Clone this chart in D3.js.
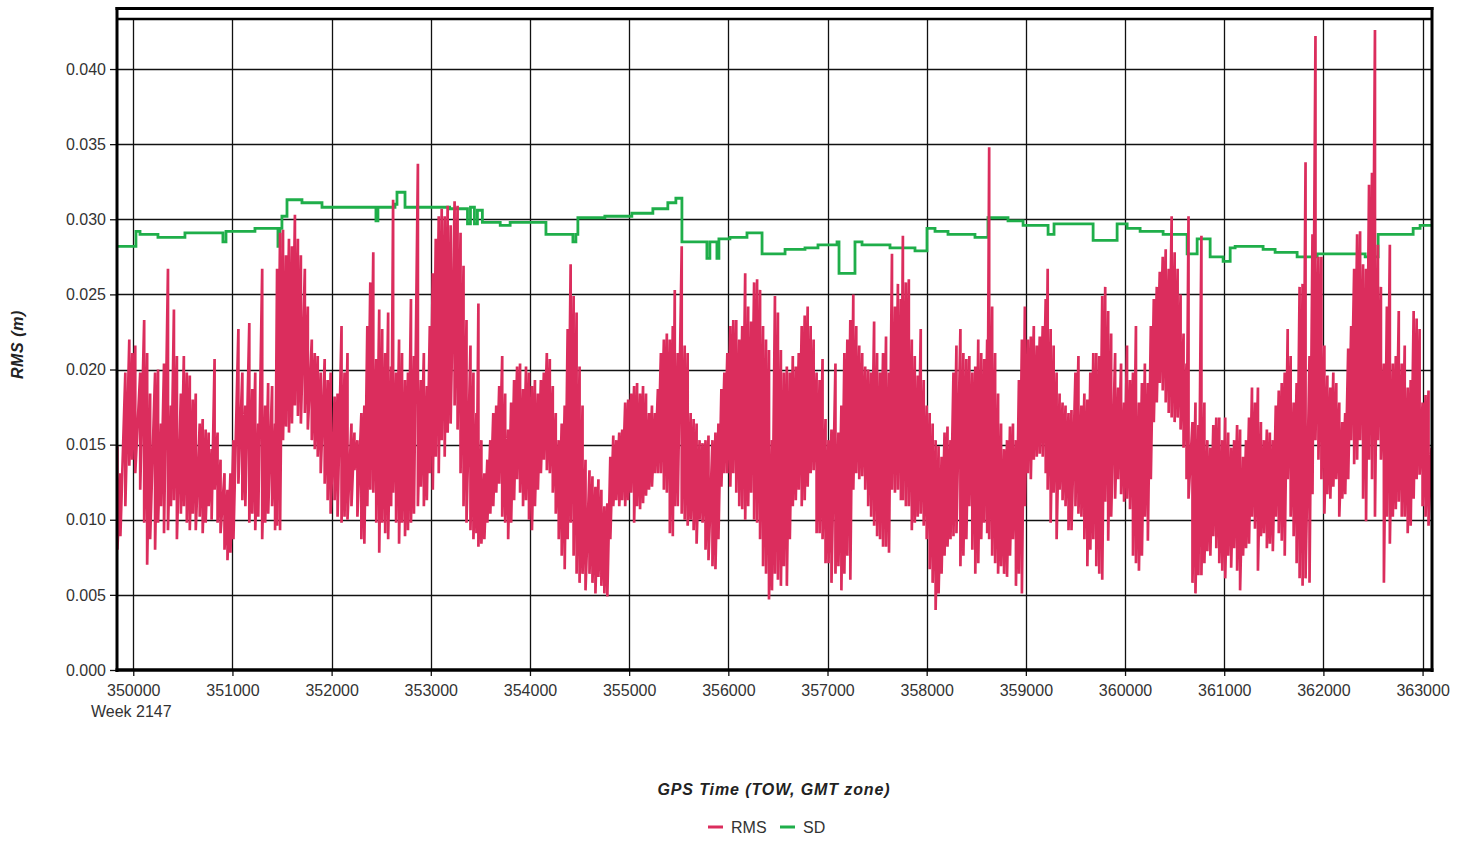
<!DOCTYPE html>
<html><head><meta charset="utf-8">
<script src="https://cdn.jsdelivr.net/npm/d3@7"></script>
<style>
html,body{margin:0;padding:0;background:#fff;}
svg{display:block;}
text{font-family:"Liberation Sans",Arial,sans-serif;}
</style></head><body>
<svg id="chart" width="1468" height="842"></svg>
<script>
// GPS time of week (s) of each decimated epoch bin
const tow = [
349840,349870,349920,349960,349990,350020,350070,350110,350140,350170,
350220,350250,350280,350310,350350,350380,350410,350440,350480,350510,
350540,350570,350600,350630,350670,350700,350730,350760,350790,350820,
350850,350880,350920,350950,350980,351010,351060,351100,351130,351170,
351200,351230,351260,351300,351330,351360,351400,351430,351450,351480,
351510,351540,351570,351600,351630,351660,351690,351730,351760,351800,
351830,351860,351890,351930,351960,351990,352030,352060,352100,352130,
352160,352200,352230,352260,352300,352330,352360,352390,352420,352450,
352480,352510,352540,352570,352600,352620,352650,352680,352710,352740,
352770,352800,352830,352870,352900,352930,352960,352990,353020,353050,
353080,353110,353140,353170,353200,353240,353270,353300,353330,353360,
353400,353430,353460,353480,353510,353540,353570,353600,353630,353660,
353690,353720,353750,353780,353810,353840,353870,353900,353930,353960,
353990,354020,354050,354080,354110,354140,354170,354200,354230,354260,
354290,354320,354350,354380,354410,354440,354470,354500,354530,354560,
354600,354630,354660,354690,354720,354750,354780,354810,354840,354870,
354900,354930,354960,354990,355020,355050,355080,355110,355140,355170,
355200,355230,355260,355290,355320,355350,355380,355410,355440,355460,
355490,355530,355560,355590,355620,355650,355680,355710,355740,355770,
355800,355840,355870,355900,355930,355960,355990,356020,356050,356080,
356110,356140,356170,356200,356230,356260,356290,356320,356350,356380,
356410,356440,356470,356500,356530,356560,356590,356620,356650,356680,
356710,356740,356770,356800,356830,356860,356890,356920,356950,356980,
357010,357040,357080,357110,357140,357170,357200,357230,357260,357290,
357320,357350,357380,357410,357440,357470,357500,357530,357560,357590,
357620,357650,357680,357710,357740,357760,357790,357820,357850,357880,
357910,357940,357970,358000,358030,358060,358090,358120,358150,358180,
358210,358240,358270,358300,358340,358370,358400,358430,358460,358490,
358520,358550,358580,358610,358630,358660,358690,358720,358750,358780,
358810,358840,358870,358900,358930,358960,358990,359020,359050,359080,
359110,359140,359170,359200,359220,359250,359280,359310,359340,359370,
359400,359430,359460,359500,359530,359560,359590,359620,359650,359680,
359710,359740,359770,359800,359830,359860,359900,359930,359960,359990,
360020,360050,360080,360110,360140,360170,360200,360230,360260,360290,
360320,360350,360380,360410,360440,360470,360500,360530,360560,360590,
360620,360640,360680,360710,360740,360770,360800,360830,360860,360890,
360920,360950,360980,361010,361040,361070,361100,361130,361160,361190,
361220,361250,361280,361310,361340,361370,361400,361430,361460,361490,
361520,361550,361580,361610,361640,361670,361700,361730,361760,361790,
361820,361860,361890,361920,361950,361980,362010,362040,362070,362100,
362130,362160,362190,362220,362250,362280,362310,362340,362370,362400,
362430,362460,362490,362520,362550,362580,362610,362640,362670,362700,
362730,362760,362790,362820,362850,362880,362910,362940,362970,363000,
363030,363060,363090
];
// RMS (m): largest value in each epoch bin
const rmsMax = [
.0149,.0131,.0198,.0220,.0211,.0216,.0198,.0233,.0211,.0184,
.0198,.0200,.0164,.0204,.0267,.0176,.0240,.0209,.0184,.0209,
.0198,.0196,.0180,.0184,.0164,.0167,.0160,.0158,.0147,.0207,
.0158,.0140,.0131,.0120,.0131,.0153,.0227,.0198,.0176,.0231,
.0187,.0198,.0164,.0267,.0176,.0191,.0189,.0164,.0267,.0291,
.0293,.0276,.0287,.0282,.0303,.0287,.0276,.0267,.0242,.0220,
.0211,.0209,.0198,.0207,.0193,.0198,.0182,.0184,.0229,.0198,
.0211,.0164,.0158,.0153,.0171,.0176,.0229,.0258,.0278,.0207,
.0240,.0227,.0211,.0238,.0202,.0313,.0198,.0220,.0211,.0193,
.0198,.0247,.0209,.0337,.0193,.0211,.0189,.0229,.0264,.0287,
.0302,.0307,.0302,.0309,.0296,.0312,.0309,.0291,.0269,.0233,
.0216,.0198,.0171,.0244,.0153,.0131,.0140,.0153,.0171,.0176,
.0189,.0209,.0184,.0160,.0178,.0193,.0202,.0204,.0187,.0202,
.0198,.0189,.0193,.0184,.0193,.0198,.0211,.0207,.0189,.0171,
.0153,.0164,.0176,.0227,.0270,.0249,.0238,.0202,.0176,.0140,
.0133,.0129,.0122,.0127,.0120,.0109,.0111,.0142,.0156,.0153,
.0158,.0160,.0178,.0180,.0184,.0189,.0191,.0184,.0189,.0184,
.0171,.0176,.0171,.0187,.0211,.0220,.0224,.0220,.0229,.0253,
.0211,.0282,.0216,.0211,.0171,.0167,.0164,.0153,.0151,.0153,
.0156,.0153,.0158,.0164,.0187,.0198,.0211,.0229,.0233,.0233,
.0220,.0229,.0264,.0242,.0232,.0258,.0260,.0253,.0229,.0220,
.0213,.0153,.0249,.0238,.0213,.0198,.0202,.0198,.0209,.0202,
.0211,.0229,.0236,.0242,.0229,.0220,.0198,.0193,.0207,.0167,
.0153,.0160,.0204,.0158,.0176,.0211,.0220,.0233,.0250,.0229,
.0216,.0211,.0202,.0200,.0198,.0232,.0211,.0198,.0211,.0222,
.0198,.0277,.0242,.0257,.0247,.0289,.0258,.0260,.0220,.0209,
.0196,.0227,.0193,.0176,.0171,.0164,.0153,.0149,.0142,.0158,
.0162,.0153,.0198,.0216,.0227,.0211,.0207,.0209,.0198,.0202,
.0220,.0211,.0207,.0220,.0348,.0242,.0211,.0184,.0164,.0147,
.0153,.0162,.0164,.0153,.0193,.0220,.0242,.0220,.0222,.0229,
.0216,.0222,.0229,.0247,.0267,.0227,.0216,.0198,.0184,.0178,
.0176,.0171,.0173,.0198,.0209,.0176,.0184,.0180,.0198,.0211,
.0211,.0209,.0249,.0255,.0239,.0224,.0211,.0188,.0204,.0178,
.0216,.0193,.0198,.0229,.0178,.0191,.0204,.0191,.0229,.0247,
.0255,.0265,.0275,.0280,.0267,.0302,.0278,.0267,.0250,.0224,
.0204,.0302,.0165,.0178,.0163,.0289,.0178,.0153,.0148,.0163,
.0168,.0168,.0153,.0168,.0158,.0148,.0153,.0163,.0160,.0142,
.0153,.0168,.0188,.0178,.0188,.0165,.0153,.0160,.0158,.0153,
.0176,.0186,.0191,.0198,.0227,.0209,.0178,.0191,.0255,.0257,
.0338,.0209,.0290,.0422,.0275,.0275,.0216,.0196,.0188,.0198,
.0191,.0178,.0165,.0171,.0214,.0229,.0267,.0290,.0292,.0270,
.0267,.0323,.0331,.0426,.0283,.0255,.0204,.0242,.0283,.0204,
.0209,.0239,.0204,.0216,.0188,.0193,.0239,.0234,.0227,.0178,
.0183,.0186,.0148
];
// RMS (m): smallest value in each epoch bin
const rmsMin = [
.0080,.0089,.0109,.0136,.0140,.0131,.0120,.0098,.0070,.0087,
.0080,.0098,.0109,.0091,.0093,.0109,.0113,.0087,.0104,.0109,
.0098,.0093,.0104,.0093,.0102,.0091,.0098,.0109,.0100,.0120,
.0098,.0091,.0080,.0073,.0078,.0087,.0124,.0113,.0109,.0098,
.0104,.0093,.0102,.0087,.0098,.0104,.0109,.0093,.0096,.0093,
.0153,.0162,.0158,.0164,.0176,.0169,.0164,.0171,.0160,.0153,
.0147,.0142,.0131,.0124,.0113,.0104,.0113,.0102,.0098,.0102,
.0100,.0109,.0133,.0102,.0087,.0084,.0109,.0120,.0118,.0098,
.0078,.0098,.0091,.0087,.0109,.0118,.0098,.0084,.0098,.0089,
.0093,.0098,.0104,.0109,.0122,.0109,.0113,.0131,.0120,.0142,
.0131,.0153,.0142,.0158,.0164,.0176,.0160,.0131,.0109,.0098,
.0093,.0087,.0091,.0082,.0084,.0087,.0098,.0104,.0109,.0118,
.0124,.0102,.0098,.0087,.0098,.0113,.0127,.0118,.0109,.0113,
.0100,.0093,.0109,.0120,.0131,.0140,.0133,.0131,.0118,.0104,
.0087,.0076,.0067,.0087,.0098,.0076,.0064,.0058,.0064,.0053,
.0064,.0058,.0051,.0062,.0056,.0051,.0049,.0087,.0109,.0113,
.0109,.0113,.0109,.0113,.0118,.0098,.0109,.0107,.0111,.0116,
.0120,.0122,.0131,.0131,.0131,.0120,.0118,.0091,.0089,.0109,
.0109,.0104,.0100,.0096,.0100,.0093,.0084,.0100,.0098,.0080,
.0073,.0069,.0067,.0087,.0122,.0131,.0131,.0122,.0131,.0118,
.0109,.0107,.0100,.0109,.0118,.0100,.0098,.0087,.0069,.0064,
.0047,.0053,.0064,.0060,.0056,.0069,.0056,.0087,.0109,.0113,
.0120,.0109,.0113,.0122,.0131,.0133,.0091,.0091,.0087,.0071,
.0071,.0058,.0064,.0069,.0053,.0064,.0076,.0060,.0120,.0131,
.0127,.0129,.0120,.0109,.0102,.0096,.0089,.0087,.0082,.0082,
.0078,.0120,.0118,.0120,.0113,.0113,.0109,.0109,.0093,.0098,
.0102,.0104,.0096,.0087,.0067,.0058,.0040,.0051,.0064,.0076,
.0082,.0087,.0089,.0091,.0069,.0076,.0087,.0109,.0080,.0064,
.0071,.0087,.0098,.0091,.0087,.0076,.0071,.0064,.0069,.0064,
.0062,.0076,.0087,.0056,.0064,.0051,.0109,.0131,.0127,.0140,
.0142,.0144,.0142,.0131,.0120,.0098,.0118,.0087,.0120,.0113,
.0109,.0093,.0093,.0109,.0104,.0102,.0087,.0069,.0080,.0087,
.0069,.0064,.0060,.0112,.0086,.0102,.0114,.0127,.0117,.0112,
.0114,.0107,.0076,.0071,.0066,.0076,.0102,.0086,.0127,.0165,
.0178,.0191,.0186,.0178,.0171,.0168,.0165,.0168,.0160,.0148,
.0127,.0114,.0058,.0051,.0063,.0063,.0071,.0079,.0076,.0089,
.0081,.0071,.0066,.0061,.0076,.0068,.0081,.0066,.0053,.0076,
.0081,.0084,.0102,.0094,.0066,.0089,.0091,.0081,.0084,.0079,
.0102,.0091,.0086,.0076,.0127,.0102,.0089,.0071,.0061,.0056,
.0061,.0058,.0117,.0153,.0140,.0127,.0104,.0117,.0114,.0122,
.0127,.0102,.0114,.0117,.0127,.0153,.0137,.0140,.0153,.0114,
.0099,.0140,.0127,.0102,.0153,.0140,.0058,.0102,.0084,.0102,
.0107,.0112,.0102,.0102,.0091,.0096,.0114,.0127,.0130,.0109,
.0102,.0096,.0127
];
// SD (m): step changes
const sdTow = [
349836,350027,350068,350249,350521,350904,350935,351227,351459,351479,
351499,351550,351701,351903,352447,352467,352639,352659,352740,353190,
353370,353400,353440,353470,353520,353700,353800,354161,354433,354463,
354483,354755,355027,355239,355390,355471,355532,355784,355814,355885,
355905,356016,356188,356340,356572,356773,356904,357096,357116,357277,
357348,357630,357882,358003,358084,358215,358487,358618,358820,358972,
359224,359284,359678,359920,360021,360152,360384,360626,360727,360858,
360989,361060,361110,361392,361513,361735,361937,362421,362552,362905,
362975,363095
];
const sdValue = [
.0282,.0292,.0290,.0288,.0291,.0285,.0292,.0294,.0282,.0294,
.0302,.0313,.0311,.0308,.0299,.0308,.0310,.0318,.0308,.0307,
.0297,.0308,.0297,.0306,.0298,.0296,.0298,.0290,.0285,.0290,
.0301,.0302,.0304,.0307,.0311,.0314,.0285,.0274,.0285,.0274,
.0287,.0288,.0291,.0277,.0280,.0281,.0283,.0285,.0264,.0285,
.0283,.0281,.0279,.0294,.0292,.0290,.0288,.0301,.0299,.0296,
.0290,.0297,.0286,.0297,.0294,.0292,.0290,.0277,.0287,.0275,
.0272,.0281,.0282,.0280,.0278,.0275,.0277,.0275,.0290,.0294,
.0296,.0296
];
const xTickValues = [350000,351000,352000,353000,354000,355000,356000,357000,358000,359000,360000,361000,362000,363000];
const yTickValues = [0,0.005,0.010,0.015,0.020,0.025,0.030,0.035,0.040];
const weekLabel = "Week 2147";
const xTitle = "GPS Time (TOW, GMT zone)";
const yTitle = "RMS (m)";
const seriesNames = ["RMS","SD"];
const seriesColors = ["#db2d5d","#1fae4a"];

const svg = d3.select("#chart");
const L = 117, R = 1432, T = 19, B = 670;
const x = d3.scaleLinear().domain([349836, 363095]).range([L, R]);
const y = d3.scaleLinear().domain([0, 0.04333]).range([B, T]);

// gridlines
const grid = svg.append("g").attr("stroke", "#111").attr("stroke-width", 1.3);
grid.selectAll(".vg").data(xTickValues).join("line")
  .attr("x1", d => Math.round(x(d)) + 0.5).attr("x2", d => Math.round(x(d)) + 0.5)
  .attr("y1", T).attr("y2", B);
grid.selectAll(".hg").data(yTickValues.filter(d => d > 0)).join("line")
  .attr("y1", d => Math.round(y(d)) + 0.5).attr("y2", d => Math.round(y(d)) + 0.5)
  .attr("x1", L).attr("x2", R);

// clip
svg.append("defs").append("clipPath").attr("id", "plotclip")
  .append("rect").attr("x", L).attr("y", T).attr("width", R - L).attr("height", B - T);

const plot = svg.append("g").attr("clip-path", "url(#plotclip)");

// SD step line
const sdData = sdTow.map((t, i) => [t, sdValue[i]]);
plot.append("path").datum(sdData)
  .attr("fill", "none").attr("stroke", seriesColors[1]).attr("stroke-width", 2.8)
  .attr("d", d3.line().x(d => x(d[0])).y(d => y(d[1])).curve(d3.curveStepAfter));

// RMS dense line (bin max then bin min for each epoch bin)
const rmsData = [];
tow.forEach((t, i) => { rmsData.push([t, rmsMax[i]]); rmsData.push([t, rmsMin[i]]); });
plot.append("path").datum(rmsData)
  .attr("fill", "none").attr("stroke", seriesColors[0]).attr("stroke-width", 2.7)
  .attr("stroke-linejoin", "bevel")
  .attr("d", d3.line().x(d => x(d[0])).y(d => y(d[1])));

// axes
const yAxis = svg.append("g").attr("transform", `translate(${L},0)`)
  .call(d3.axisLeft(y).tickValues(yTickValues).tickSize(7).tickPadding(4).tickFormat(d3.format(".3f")));
yAxis.select(".domain").remove();
yAxis.selectAll("line").attr("stroke", "#111").attr("stroke-width", 1.3);
yAxis.selectAll("text").attr("font-size", 16).attr("fill", "#333")
  .attr("font-family", "Liberation Sans, Arial, sans-serif");

const xAxis = svg.append("g").attr("transform", `translate(0,${B})`)
  .call(d3.axisBottom(x).tickValues(xTickValues).tickSize(6).tickPadding(9).tickFormat(d3.format("d")));
xAxis.select(".domain").remove();
xAxis.selectAll("line").attr("stroke", "#111").attr("stroke-width", 1.3);
xAxis.selectAll("text").attr("font-size", 16).attr("fill", "#333")
  .attr("font-family", "Liberation Sans, Arial, sans-serif");

svg.append("text").attr("x", x(xTickValues[0]) - 2).attr("y", 717)
  .attr("text-anchor", "middle").attr("font-size", 16).attr("fill", "#333").text(weekLabel);

// frame
const frame = svg.append("g").attr("stroke", "#000").attr("fill", "none");
frame.append("line").attr("x1", L).attr("x2", L).attr("y1", 7).attr("y2", B + 2).attr("stroke-width", 3);
frame.append("line").attr("x1", R).attr("x2", R).attr("y1", 7).attr("y2", B + 2).attr("stroke-width", 3);
frame.append("line").attr("x1", L - 1.5).attr("x2", R + 1.5).attr("y1", 8.5).attr("y2", 8.5).attr("stroke-width", 3);
frame.append("line").attr("x1", L).attr("x2", R).attr("y1", T).attr("y2", T).attr("stroke-width", 2.5);
frame.append("line").attr("x1", L - 1.5).attr("x2", R + 1.5).attr("y1", B).attr("y2", B).attr("stroke-width", 3.5);

// titles
svg.append("text").attr("transform", `translate(23,${(T + B) / 2}) rotate(-90)`)
  .attr("text-anchor", "middle").attr("font-size", 16).attr("font-weight", "bold")
  .attr("font-style", "italic").attr("letter-spacing", 0.6).attr("fill", "#222").text(yTitle);
svg.append("text").attr("x", 774).attr("y", 795)
  .attr("text-anchor", "middle").attr("font-size", 16).attr("font-weight", "bold")
  .attr("font-style", "italic").attr("letter-spacing", 0.9).attr("fill", "#222").text(xTitle);

// legend
const lg = svg.append("g");
const legendX = [708, 780];
seriesNames.forEach((n, i) => {
  lg.append("line").attr("x1", legendX[i]).attr("x2", legendX[i] + 15)
    .attr("y1", 827).attr("y2", 827).attr("stroke", seriesColors[i]).attr("stroke-width", 3);
  lg.append("text").attr("x", legendX[i] + 23).attr("y", 833).attr("font-size", 16)
    .attr("fill", "#333").text(n);
});
</script>
</body></html>
